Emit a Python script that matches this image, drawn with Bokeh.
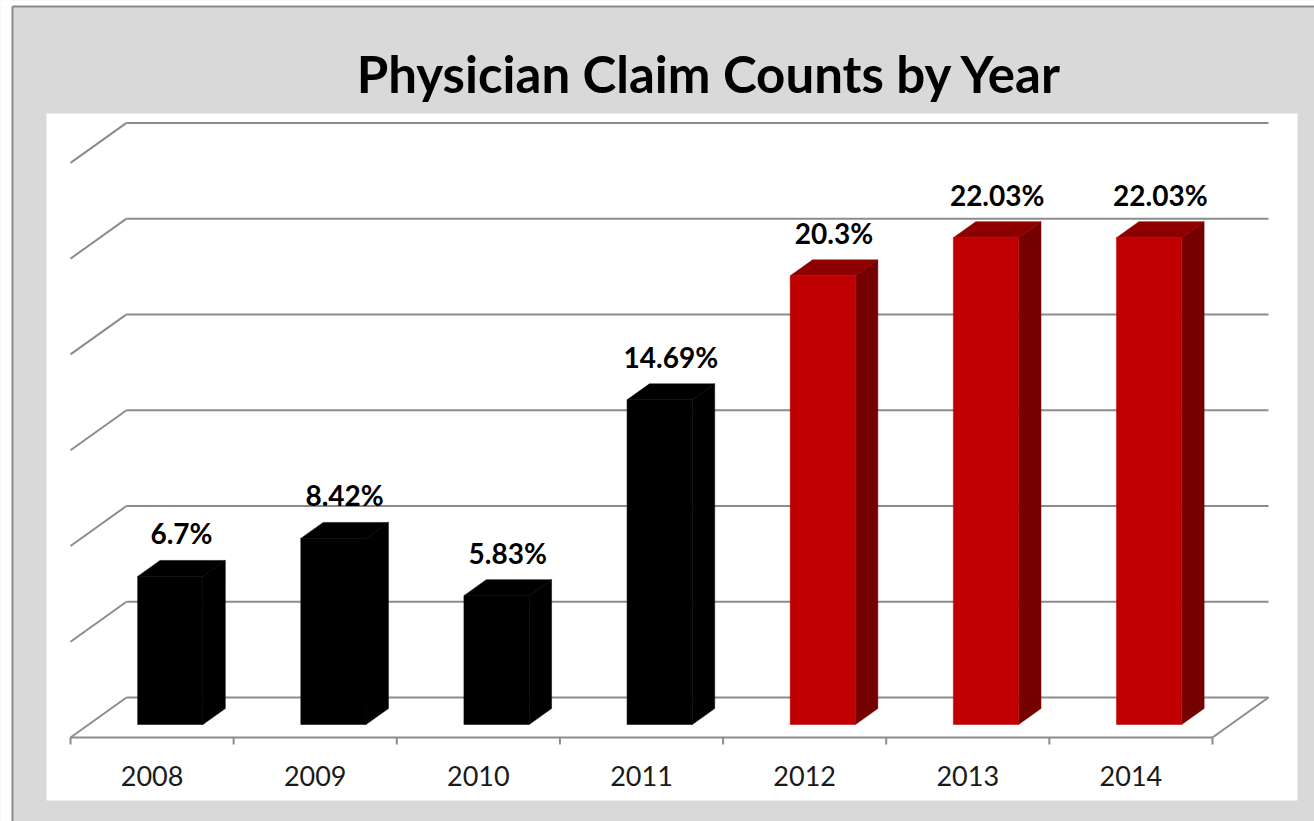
from bokeh.plotting import figure
from bokeh.models import Range1d, ColumnDataSource
from bokeh.core.properties import value
from bokeh.embed import file_html
from bokeh.resources import INLINE

# ---- data ----
years = ["2008", "2009", "2010", "2011", "2012", "2013", "2014"]
pct = [6.7, 8.42, 5.83, 14.69, 20.3, 22.03, 22.03]
labels = ["6.7%", "8.42%", "5.83%", "14.69%", "20.3%", "22.03%", "22.03%"]
highlight_from = "2012"
axis_max = 26
n_gridlines = 6
title_text = "Physician Claim Counts by Year"

# ---- geometry (pixel calibration of the oblique 3D projection) ----
FIG_W, FIG_H = 1314, 821
PAGE_OFF = 0
PX_PER_X = 163.14      # px per category
PX_PER_Y = 22.1        # px per percent
X0_PX = 70.0           # px of category boundary -0.5 (front floor)
Y0_PX = 737.0          # px of value 0 (front floor)
DX = 56.0 / PX_PER_X   # depth offset (full depth) in x units
DY = 40.0 / PX_PER_Y   # depth offset in y units
D_FRONT, D_BACK = 0.325, 0.725
BAR_W = 0.4


def X(px):
    return (px - X0_PX) / PX_PER_X - 0.5


def Y(py):
    return (Y0_PX - py) / PX_PER_Y


p = figure(width=FIG_W, height=FIG_H, output_backend="svg", toolbar_location=None,
           x_range=Range1d(X(PAGE_OFF), X(PAGE_OFF + FIG_W)),
           y_range=Range1d(Y(PAGE_OFF + FIG_H), Y(PAGE_OFF)),
           min_border=0, outline_line_color=None)
p.axis.visible = False
p.grid.visible = False
p.background_fill_color = "#d9d9d9"
p.border_fill_color = "#d9d9d9"

# white page outside the chart box, white plot area and outer frame line
p.quad(left=[X(-20), X(-20)], right=[X(12), X(1400)], top=[Y(-20), Y(-20)],
       bottom=[Y(900), Y(6)], fill_color="white", line_color=None)
p.quad(left=[X(46)], right=[X(1297)], top=[Y(113)], bottom=[Y(800)],
       fill_color="white", line_color=None)
p.segment(x0=[X(12), X(12)], y0=[Y(6), Y(6)], x1=[X(12), X(1400)], y1=[Y(900), Y(6)],
          line_color="#8a8a8a", line_width=2)

GRID_C = "#8c8c8c"
n = len(years)
grid_vals = [axis_max * k / n_gridlines for k in range(n_gridlines + 1)]
# back wall lines
p.segment(x0=[-0.5 + DX] * len(grid_vals), x1=[n - 0.5 + DX] * len(grid_vals),
          y0=[g + DY for g in grid_vals], y1=[g + DY for g in grid_vals],
          line_color=GRID_C, line_width=2)
# left wall diagonals
p.segment(x0=[-0.5] * len(grid_vals), x1=[-0.5 + DX] * len(grid_vals),
          y0=grid_vals, y1=[g + DY for g in grid_vals],
          line_color=GRID_C, line_width=2)
# floor front edge and right edge
p.segment(x0=[-0.5, n - 0.5], x1=[n - 0.5, n - 0.5 + DX], y0=[0, 0], y1=[0, DY],
          line_color=GRID_C, line_width=2)
# category ticks
tick_x = [k - 0.5 for k in range(n + 1)]
p.segment(x0=tick_x, x1=tick_x, y0=[0] * len(tick_x), y1=[-7 / PX_PER_Y] * len(tick_x),
          line_color=GRID_C, line_width=2)

# ---- bars ----
front_l, front_r, front_b, front_t = [], [], [], []
front_c, top_c, side_c = [], [], []
top_xs, top_ys, side_xs, side_ys = [], [], [], []
ddx, ddy = (D_BACK - D_FRONT) * DX, (D_BACK - D_FRONT) * DY
for i, (yr, v) in enumerate(zip(years, pct)):
    L = i - BAR_W / 2 + D_FRONT * DX
    R = i + BAR_W / 2 + D_FRONT * DX
    B = D_FRONT * DY
    T = B + v
    front_l.append(L); front_r.append(R); front_b.append(B); front_t.append(T)
    top_xs.append([L, L + ddx, R + ddx, R])
    top_ys.append([T, T + ddy, T + ddy, T])
    side_xs.append([R, R, R + ddx, R + ddx])
    side_ys.append([B, T, T + ddy, B + ddy])
    if yr >= highlight_from:
        front_c.append("#c00000"); top_c.append("#8e0000"); side_c.append("#750000")
    else:
        front_c.append("#000000"); top_c.append("#000000"); side_c.append("#000000")

p.patches(xs=side_xs, ys=side_ys, fill_color=side_c, line_color=side_c, line_width=0.5)
p.patches(xs=top_xs, ys=top_ys, fill_color=top_c, line_color=top_c, line_width=0.5)
p.quad(left=front_l, right=front_r, bottom=front_b, top=front_t,
       fill_color=front_c, line_color=front_c, line_width=0.5)

# data labels
lab_src = ColumnDataSource(dict(
    x=[i + D_FRONT * DX + ddx / 2 for i in range(n)],
    y=[D_FRONT * DY + v + 43 / PX_PER_Y for v in pct],
    t=labels))
p.text(x="x", y="y", text="t", source=lab_src, text_align="center",
       text_baseline="alphabetic", text_font=value("Lato"), text_font_style="bold",
       text_font_size="28px", text_color="black")

# category labels
cat_src = ColumnDataSource(dict(x=list(range(n)), y=[Y(775)] * n, t=years))
p.text(x="x", y="y", text="t", source=cat_src, text_align="center",
       text_baseline="alphabetic", text_font=value("Lato"),
       text_font_size="27px", text_color="#1a1a1a")

# title
p.text(x=[X(709.5)], y=[Y(73)], text=[title_text], text_align="center",
       text_baseline="alphabetic", text_font=value("Lato"), text_font_style="bold",
       text_font_size="51px", text_color="black")

open("out.html", "w").write(file_html(p, INLINE))
